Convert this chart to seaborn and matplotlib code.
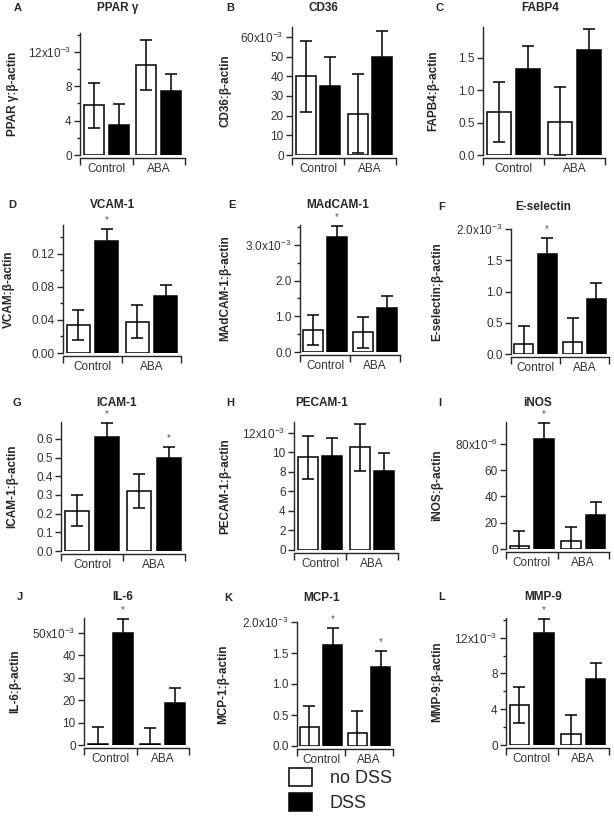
import numpy as np
import pandas as pd
import seaborn as sns
import matplotlib.pyplot as plt
import matplotlib.ticker as ticker
from matplotlib.patches import Patch

sns.set_style('ticks')
plt.rcParams['font.family'] = ['Liberation Sans', 'DejaVu Sans']

# Data
groups = ['Control', 'ABA']
treatments = ['no DSS', 'DSS']

letters = list('ABCDEFGHIJKL')
titles = ['PPAR γ', 'CD36', 'FABP4', 'VCAM-1', 'MAdCAM-1', 'E-selectin',
          'ICAM-1', 'PECAM-1', 'iNOS', 'IL-6', 'MCP-1', 'MMP-9']
ylabels = ['PPAR γ:β-actin', 'CD36:β-actin', 'FAPB4:β-actin', 'VCAM:β-actin',
           'MAdCAM-1:β-actin', 'E-selectin:β-actin', 'ICAM-1:β-actin',
           'PECAM-1:β-actin', 'iNOS:β-actin', 'IL-6:β-actin', 'MCP-1:β-actin',
           'MMP-9:β-actin']

# order: Control/no DSS, Control/DSS, ABA/no DSS, ABA/DSS (in axis units)
means = [[5.8, 3.5, 10.5, 7.4],
         [40, 35, 21, 50],
         [0.66, 1.33, 0.51, 1.61],
         [0.034, 0.136, 0.038, 0.069],
         [0.62, 3.22, 0.55, 1.24],
         [0.16, 1.60, 0.19, 0.88],
         [0.215, 0.61, 0.32, 0.495],
         [9.5, 9.6, 10.5, 8.1],
         [2.5, 84, 6, 26],
         [0.5, 50, 0.5, 18.5],
         [0.30, 1.63, 0.21, 1.28],
         [4.5, 12.5, 1.2, 7.4]]
sems = [[2.6, 2.4, 2.9, 2.0],
        [18, 15, 20, 13],
        [0.46, 0.34, 0.53, 0.33],
        [0.018, 0.014, 0.020, 0.013],
        [0.41, 0.30, 0.44, 0.32],
        [0.29, 0.25, 0.38, 0.25],
        [0.083, 0.075, 0.09, 0.06],
        [2.2, 1.9, 2.4, 1.8],
        [11.5, 12, 11, 10],
        [7.5, 6, 7, 7],
        [0.35, 0.27, 0.35, 0.25],
        [2.0, 1.6, 2.1, 1.8]]
stars = [[], [], [], [1], [1], [1], [1, 3], [], [1], [1], [1, 3], [1]]
exponents = [-3, -3, None, None, -3, -3, None, -3, -6, -3, -3, -3]

# Layout (pixels): axes left, right, y0, top; y top value, major, minor, decimals
boxes = [(80, 185, 155, 33), (292, 396, 155, 27), (483, 605, 155, 27),
         (63, 181, 353, 225), (300, 400, 352, 225), (511, 609, 354, 229),
         (61, 185, 551, 422), (294, 398, 550, 422), (506, 609, 549, 422),
         (84, 189, 745, 618), (297, 393, 746, 622), (506, 609, 745, 618)]
ytops = [14.2, 65, 1.97, 0.155, 3.56, 2.0, 0.69, 13.1, 96.6, 56.6, 2.0, 14.2]
majors = [4, 10, 0.5, 0.04, 1.0, 0.5, 0.1, 2, 20, 10, 0.5, 4]
minors = [2, None, None, 0.02, 0.5, None, None, None, None, None, None, 2]
decimals = [0, 0, 1, 2, 1, 1, 1, 0, 0, 0, 1, 0]
title_pos = [(118, 8), (323, 8), (540, 8), (113, 205), (338, 205), (543, 207),
             (117, 403), (322, 403), (538, 403), (123, 597), (322, 598), (543, 597)]
letter_x = [18, 230, 440, 12, 232, 442, 17, 230, 440, 20, 228, 442]
ylabel_x = [13, 225, 433, 9, 225, 437, 12, 225, 437, 15, 223, 437]

W, H = 614, 821
fig = plt.figure(figsize=(W / 100, H / 100), dpi=100)

bar_width = 0.96
offsets = [-bar_width / 4, bar_width / 4]
txt = '#333333'

for i in range(12):
    l, r, b, t = boxes[i]
    ax = fig.add_axes([l / W, 1 - b / H, (r - l) / W, (b - t) / H])
    df = pd.DataFrame({'group': np.repeat(groups, 2),
                       'treatment': treatments * 2,
                       'value': means[i]})
    sns.barplot(data=df, x='group', y='value', hue='treatment',
                hue_order=treatments, palette=['white', 'black'],
                edgecolor='black', linewidth=1.1, width=bar_width, gap=0.2,
                errorbar=None, legend=False, ax=ax)

    # error bars are clipped at zero like the original
    xs = [g + offsets[k] for g in range(2) for k in range(2)]
    ax.errorbar(xs, means[i], yerr=sems[i], fmt='none', ecolor='black',
                elinewidth=1.1, capsize=4, capthick=1.1, zorder=5)
    for j in stars[i]:
        ax.annotate('*', (xs[j], means[i][j] + sems[i][j]), xytext=(0, 3),
                    textcoords='offset points', ha='center', va='bottom',
                    fontsize=7, color='#555555', annotation_clip=False)

    ax.set_xlim(-0.5, 1.5)
    ax.set_ylim(0, ytops[i])
    ax.set_xticks([-0.5, 0.5, 1.5])
    ax.set_xticklabels([])
    ax.set_xticks([0, 1], minor=True)
    ax.set_xticklabels(groups, minor=True)
    ax.tick_params(axis='x', which='major', length=5, width=1)
    ax.tick_params(axis='x', which='minor', length=0, pad=3.5,
                   labelsize=8.5, labelcolor=txt)

    step = majors[i]
    ax.yaxis.set_major_locator(ticker.MultipleLocator(step))
    if minors[i]:
        ax.yaxis.set_minor_locator(ticker.MultipleLocator(minors[i]))
    top_label = np.floor(ytops[i] / step + 1e-6) * step
    dec, exp = decimals[i], exponents[i]

    def fmt(v, pos, dec=dec, exp=exp, top_label=top_label):
        s = f'{v:.{dec}f}'
        if exp is not None and abs(v - top_label) < 1e-9:
            s += 'x10$^{\\mathregular{' + str(exp) + '}}$'
        return s

    ax.yaxis.set_major_formatter(ticker.FuncFormatter(fmt))
    ax.tick_params(axis='y', which='major', length=4, width=1, pad=2,
                   labelsize=8.5, labelcolor=txt)
    ax.tick_params(axis='y', which='minor', length=2.5, width=1)

    sns.despine(ax=ax)
    ax.spines['bottom'].set_position(('outward', 2.5))
    for s in ['left', 'bottom']:
        ax.spines[s].set_linewidth(1.0)

    ax.set_xlabel('')
    ax.set_ylabel(ylabels[i], fontsize=8.5, fontweight='bold')
    ax.yaxis.label.set_va('center')
    ax.yaxis.set_label_coords((ylabel_x[i] - l) / (r - l), 0.5)

    tx, ty = title_pos[i]
    fig.text(tx / W, 1 - ty / H, titles[i], ha='center', va='center',
             fontsize=8.5, fontweight='bold')
    fig.text(letter_x[i] / W, 1 - ty / H, letters[i], ha='center', va='center',
             fontsize=8, fontweight='bold')

handles = [Patch(facecolor='white', edgecolor='black', linewidth=1.1),
           Patch(facecolor='black', edgecolor='black', linewidth=1.1)]
fig.legend(handles=handles, labels=treatments, loc='upper left',
           bbox_to_anchor=(289 / W, 1 - 768 / H), frameon=False, fontsize=13,
           handlelength=1.25, handleheight=1.15, handletextpad=1.0,
           labelspacing=0.35, borderpad=0, borderaxespad=0)

fig.savefig('out.png', dpi=100)
